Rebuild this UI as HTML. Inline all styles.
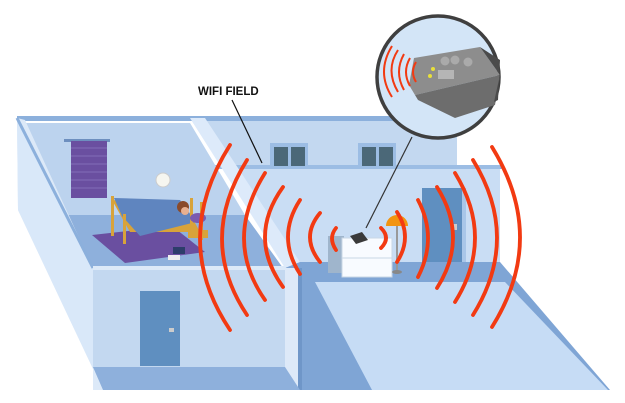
<!DOCTYPE html>
<html><head><meta charset="utf-8"><style>
html,body{margin:0;padding:0;background:#fff;width:625px;height:403px;overflow:hidden}
svg{display:block}
</style></head><body>
<svg width="625" height="403" viewBox="0 0 625 403" xmlns="http://www.w3.org/2000/svg">
<rect width="625" height="403" fill="#fff"/>
<!-- upper back wall strip -->
<polygon points="17,118 457,118 457,168 500,168 500,282 315,282 285,265 190,118" fill="#c3d8f0"/>
<rect x="17" y="116" width="440" height="5" fill="#8cb0dc"/>
<rect x="457" y="165" width="45" height="4" fill="#8cb0dc"/>
<!-- hall back wall -->
<polygon points="220,165 500,165 500,265 290,265" fill="#c9ddf4"/>
<rect x="215" y="165" width="285" height="4" fill="#9cbde4"/>
<!-- windows -->
<rect x="270" y="143" width="38" height="24" fill="#9cbde4"/>
<rect x="274" y="147" width="14" height="19" fill="#4b6878"/><rect x="291" y="147" width="14" height="19" fill="#4b6878"/>
<rect x="358" y="143" width="38" height="24" fill="#9cbde4"/>
<rect x="362" y="147" width="14" height="19" fill="#4b6878"/><rect x="379" y="147" width="14" height="19" fill="#4b6878"/>
<!-- door right -->
<rect x="422" y="188" width="40" height="76" fill="#5f8fc0"/>
<rect x="462" y="188" width="4" height="76" fill="#a9c6e8"/>
<rect x="453" y="224" width="4" height="6" fill="#ccc"/>
<!-- hall floor -->
<polygon points="285,262 500,262 610,390 300,390" fill="#7fa5d5"/>
<polygon points="315,282 505,282 608,390 372,390" fill="#c6dcf5"/>
<!-- partition wall -->
<polygon points="190,118 205,118 300,262 285,268" fill="#ddeafa"/>
<polygon points="205,118 300,262 300,390 290,390 290,270" fill="#d6e6f8" opacity="0"/>
<rect x="285" y="268" width="15" height="122" fill="#dde9f8"/>
<rect x="298" y="268" width="4" height="122" fill="#6f96c8"/>
<!-- bedroom back wall -->
<polygon points="25,123 190,123 245,215 60,215" fill="#bcd3ee"/>
<polygon points="60,215 245,215 283,268 93,268" fill="#8eb0dc"/>
<!-- left outer face -->
<polygon points="17,118 25,120 93,268 93,390 103,390 18,210" fill="#dce9f8"/>
<polygon points="17,118 93,268 103,390 18,210" fill="#d9e8f9"/>
<line x1="17" y1="118" x2="93" y2="268" stroke="#8cb0dc" stroke-width="3"/>
<!-- front wall lower room -->
<rect x="93" y="268" width="192" height="100" fill="#c3d8f0"/>
<rect x="93" y="266" width="192" height="4" fill="#dce9f8"/>
<polygon points="93,367 285,367 300,390 103,390" fill="#8eb0dc"/>
<!-- door left -->
<rect x="140" y="291" width="40" height="75" fill="#5f8fc0"/>
<rect x="169" y="328" width="5" height="4" fill="#ccc"/>
<!-- blind -->
<rect x="64" y="139" width="46" height="3" fill="#6d8fbf"/>
<rect x="71" y="141" width="36" height="57" fill="#6a4fa0"/>
<g stroke="#8d78c0" stroke-width="0.8">
<line x1="71" y1="148" x2="107" y2="148"/><line x1="71" y1="156" x2="107" y2="156"/><line x1="71" y1="164" x2="107" y2="164"/><line x1="71" y1="172" x2="107" y2="172"/><line x1="71" y1="180" x2="107" y2="180"/><line x1="71" y1="188" x2="107" y2="188"/></g>
<!-- rug -->
<polygon points="92,235 172,226 205,252 125,263" fill="#6a4fa0"/>
<!-- bed -->
<polygon points="112,200 185,205 200,232 130,232" fill="#d8a33a"/>
<polygon points="114,198 180,200 196,222 140,236 122,216" fill="#5f85bf"/>
<circle cx="183" cy="207" r="6" fill="#8a4a2a"/>
<circle cx="185" cy="211" r="4" fill="#e8b090"/>
<rect x="111" y="196" width="3" height="40" fill="#d8a33a"/>
<rect x="123" y="214" width="3" height="30" fill="#d8a33a"/>
<rect x="190" y="198" width="3" height="34" fill="#d8a33a"/>
<rect x="200" y="202" width="3" height="38" fill="#d8a33a"/>
<rect x="188" y="230" width="20" height="8" fill="#d8a33a"/>
<ellipse cx="198" cy="218" rx="8" ry="5" fill="#7a5ab0"/>
<circle cx="163" cy="180" r="7" fill="#f6f6f0" stroke="#ccc"/>
<rect x="173" y="247" width="12" height="7" fill="#2d3d6a"/>
<rect x="168" y="255" width="12" height="5" fill="#eee"/>
<!-- nightstand + lamp -->
<rect x="328" y="236" width="16" height="37" fill="#9fb5cc"/>
<rect x="342" y="238" width="50" height="39" fill="#f8fbff" stroke="#c9d7e6"/>
<line x1="342" y1="258" x2="392" y2="258" stroke="#c9d7e6"/>
<polygon points="350,236 362,232 368,240 356,244" fill="#3a3a3a"/>
<rect x="396" y="222" width="2" height="50" fill="#999"/>
<ellipse cx="397" cy="272" rx="5" ry="2" fill="#888"/>
<path d="M386,226 A11,11 0 0 1 408,226 Z" fill="#f29410"/>
<!-- callout line -->
<line x1="412" y1="137" x2="366" y2="228" stroke="#333" stroke-width="1.2"/>
<line x1="232" y1="100" x2="262" y2="163" stroke="#111" stroke-width="1.2"/>
<text x="198" y="95" font-family="Liberation Sans, sans-serif" font-weight="bold" font-size="11.5" fill="#111">WIFI FIELD</text>
<!-- arcs -->
<g fill="none" stroke="#f23a12" stroke-width="3.8" stroke-linecap="round">
<path d="M230,145 Q170,240 230,330"/>
<path d="M247,160 Q197,240 247,315"/>
<path d="M265,173 Q223,240 265,300"/>
<path d="M283,187 Q247,237 283,287"/>
<path d="M300,200 Q276,237 300,274"/>
<path d="M320,213 Q300,237 320,262"/>
<path d="M336,228 Q328,238 336,250"/>
<path d="M381,228 Q391,238 381,248"/>
<path d="M397,212 Q413,237 397,262"/>
<path d="M418,200 Q438,238 418,277"/>
<path d="M437,187 Q469,238 437,288"/>
<path d="M455,173 Q495,238 455,302"/>
<path d="M473,160 Q521,238 473,315"/>
<path d="M492,147 Q548,238 492,327"/>
</g>
<!-- magnifier -->
<circle cx="438" cy="77" r="61" fill="#d3e5f7" stroke="#3f3f3f" stroke-width="3.5"/>
<polygon points="414,58 480,47 500,75 415,95 409,85" fill="#8d8d8d"/>
<polygon points="415,95 500,75 495,105 455,118 418,100" fill="#6d6d6d"/>
<polygon points="480,47 500,60 498,100 494,102 500,75" fill="#4b4b4b"/>
<circle cx="445" cy="61" r="4.5" fill="#aaa"/><circle cx="455" cy="60" r="4.5" fill="#aaa"/><circle cx="468" cy="62" r="4.5" fill="#aaa"/>
<rect x="438" y="70" width="16" height="9" fill="#b5b5b5"/>
<circle cx="433" cy="69" r="2" fill="#e8e03a"/><circle cx="430" cy="76" r="2" fill="#e8e03a"/>
<g fill="none" stroke="#f23a12" stroke-width="2">
<path d="M398,50 Q385,70 398,92"/><path d="M404,54 Q394,72 404,90"/><path d="M410,58 Q402,72 410,86"/><path d="M416,62 Q410,72 416,82"/><path d="M396,46 Q378,72 396,98" opacity="0"/>
<path d="M392,46 Q376,72 392,97"/>
</g>
</svg>
</body></html>
